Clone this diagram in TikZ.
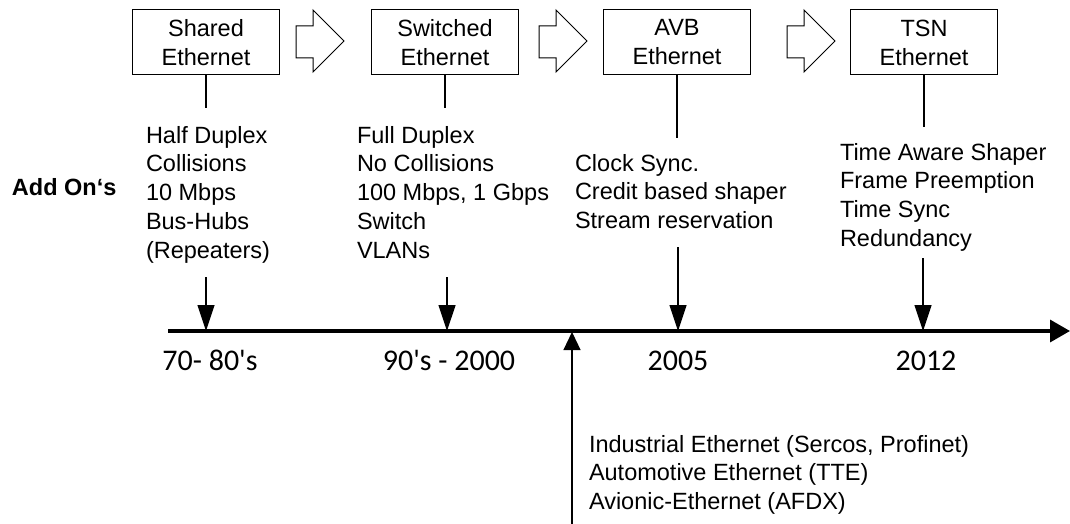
\documentclass[tikz,border=0pt]{standalone}
\usepackage{fontspec}
\setmainfont{Liberation Sans}
\newfontfamily\yearfont{Carlito}[Ligatures=TeXOff]
\usetikzlibrary{arrows.meta}
\begin{document}
\begin{tikzpicture}[x=1pt,y=-1pt,
  every node/.style={inner sep=0pt, outer sep=0pt},
  txt/.style={font=\fontsize{23.5}{28.8}\selectfont, align=left, anchor=north west},
  era/.style={draw, line width=1pt, minimum width=147pt, minimum height=65pt,
              align=center, font=\fontsize{23.5}{29}\selectfont},
  yearlbl/.style={font=\yearfont\fontsize{30}{36}\selectfont, anchor=base},
  stem/.style={line width=1.2pt},
  pointer/.style={line width=1.2pt, -{Triangle[length=26pt,width=17pt]}},
  riser/.style={line width=1.2pt, -{Triangle[length=18pt,width=17pt]}},
  flow/.style={draw, line width=1pt, line join=miter},
  timeaxis/.style={line width=3.5pt, -{Triangle[length=20pt,width=22pt]}}
]
\useasboundingbox (0,0) rectangle (1070,524);

% generations of Ethernet
\node[era] (shared)   at (206,42.5) {Shared\\Ethernet};
\node[era] (switched) at (445,42.5) {Switched\\Ethernet};
\node[era] (avb)      at (677,42.5) {AVB\\Ethernet};
\node[era] (tsn)      at (924,42.5) {TSN\\Ethernet};

% hollow block arrows between the generations
\foreach \x in {296,539,787}
  \draw[flow] (\x,26) -- ++(17,0) -- ++(0,-16) -- (\x+48,41)
              -- (\x+17,72) -- ++(0,-14) -- (\x,58) -- cycle;

% feature lists
\node[txt] (addons) at (12,178) {\bfseries Add On‘s};
\node[txt] (sharedtxt) at (146,126)
  {Half Duplex\\Collisions\\10 Mbps\\Bus-Hubs\\(Repeaters)};
\node[txt] (switchedtxt) at (357,126)
  {Full Duplex\\No Collisions\\100 Mbps, 1 Gbps\\Switch\\VLANs};
\node[txt] (avbtxt) at (575,154)
  {Clock Sync.\\Credit based shaper\\Stream reservation};
\node[txt] (tsntxt) at (840,143)
  {Time Aware Shaper\\Frame Preemption\\Time Sync\\Redundancy};
\node[txt] (fieldtxt) at (589,435)
  {Industrial Ethernet (Sercos, Profinet)\\Automotive Ethernet (TTE)\\Avionic-Ethernet (AFDX)};

% time axis
\coordinate (t0) at (168,331);
\coordinate (t1) at (1070,331);
\draw[timeaxis] (t0) -- (t1);

\coordinate (p1) at (206,331);
\coordinate (p2) at (447,331);
\coordinate (p3) at (678,331);
\coordinate (p4) at (923,331);

% stems below the boxes
\coordinate (s1) at (206,108);
\coordinate (s2) at (445,108);
\coordinate (s3) at (677,138);
\coordinate (s4) at (924,127);
\draw[stem] (shared.south) -- (s1);
\draw[stem] (switched.south) -- (s2);
\draw[stem] (avb.south) -- (s3);
\draw[stem] (tsn.south) -- (s4);

% pointers onto the axis
\coordinate (d1) at (206,277);
\coordinate (d2) at (447,277);
\coordinate (d3) at (678,247);
\coordinate (d4) at (923,258);
\draw[pointer] (d1) -- (p1);
\draw[pointer] (d2) -- (p2);
\draw[pointer] (d3) -- (p3);
\draw[pointer] (d4) -- (p4);

\coordinate (u0) at (572,524);
\coordinate (u1) at (572,332);
\draw[riser] (u0) -- (u1);

% years
\node[yearlbl] (y1) at (210,370) {70- 80's};
\node[yearlbl] (y2) at (449,370) {90's - 2000};
\node[yearlbl] (y3) at (678,370) {2005};
\node[yearlbl] (y4) at (926,370) {2012};
\end{tikzpicture}
\end{document}
